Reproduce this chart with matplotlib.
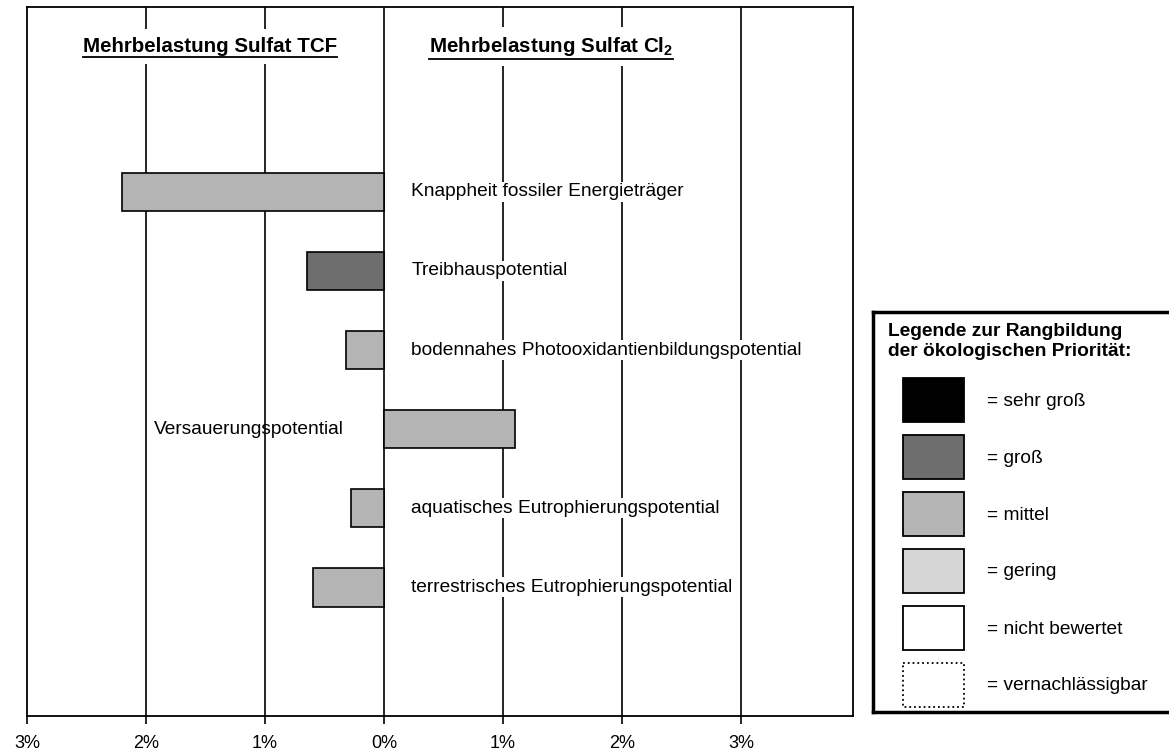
import matplotlib
matplotlib.use("Agg")
import matplotlib.pyplot as plt
from matplotlib.patches import Rectangle
from matplotlib.lines import Line2D

plt.rcParams['font.family'] = ['Liberation Sans', 'DejaVu Sans']
plt.rcParams['mathtext.fontset'] = 'custom'
plt.rcParams['mathtext.rm'] = 'Liberation Sans'
plt.rcParams['mathtext.bf'] = 'Liberation Sans:bold'

# data
kategorien = ["Knappheit fossiler Energieträger", "Treibhauspotential",
              "bodennahes Photooxidantienbildungspotential", "Versauerungspotential",
              "aquatisches Eutrophierungspotential", "terrestrisches Eutrophierungspotential"]
werte = [-2.2, -0.65, -0.32, 1.1, -0.28, -0.6]
prioritaet = ["mittel", "groß", "mittel", "mittel", "mittel", "mittel"]
ticks = [-3, -2, -1, 0, 1, 2, 3]
tick_labels = ["3%", "2%", "1%", "0%", "1%", "2%", "3%"]

legende_namen = ["sehr groß", "groß", "mittel", "gering", "nicht bewertet", "vernachlässigbar"]
farben = {"sehr groß": "#000000", "groß": "#6e6e6e", "mittel": "#b4b4b4",
          "gering": "#d6d6d6", "nicht bewertet": "#ffffff", "vernachlässigbar": "#ffffff"}

FS = 13.8
W, H = 1169, 753
fig = plt.figure(figsize=(W / 100, H / 100), dpi=100)

# main axes (pixel layout)
l, r, t, b = 27, 853, 7, 716
ax = fig.add_axes([l / W, 1 - b / H, (r - l) / W, (b - t) / H])
ax.set_xlim(-3, 3.94)
ax.set_ylim(5 + 1.63, -2.34)

for g in ticks[1:]:
    ax.axvline(g, color='black', lw=1.2, zorder=1)

y = list(range(len(kategorien)))
ax.barh(y, werte, height=0.49, color=[farben[p] for p in prioritaet],
        edgecolor='black', linewidth=1.2, zorder=3)

for yi, name, v in zip(y, kategorien, werte):
    if v > 0:
        ax.text(-0.34, yi, name, ha='right', va='center', fontsize=FS, zorder=4)
    else:
        ax.text(0.23, yi, name, ha='left', va='center', fontsize=FS, zorder=4,
                bbox=dict(facecolor='white', edgecolor='none', pad=1))

titel = [ax.text(-1.46, -1.84, "Mehrbelastung Sulfat TCF", ha='center', va='center',
                 fontsize=14.8, fontweight='bold', zorder=4,
                 bbox=dict(facecolor='white', edgecolor='none', pad=6)),
         ax.text(1.40, -1.84, r"Mehrbelastung Sulfat Cl$_\mathbf{2}$", ha='center', va='center',
                 fontsize=14.8, fontweight='bold', zorder=4,
                 bbox=dict(facecolor='white', edgecolor='none', pad=6))]

ax.set_xticks(ticks)
ax.set_xticklabels(tick_labels, fontsize=13)
ax.set_yticks([])
ax.tick_params(axis='x', direction='out', length=6, width=1.2, pad=8)
for s in ax.spines.values():
    s.set_linewidth(1.3)

# legend box
ll, lt, lb = 873, 312, 712
lax = fig.add_axes([ll / W, 1 - lb / H, (1180 - ll) / W, (lb - lt) / H])
lax.set_xlim(0, 1180 - ll)
lax.set_ylim(lb - lt, 0)
lax.set_xticks([])
lax.set_yticks([])
for s in lax.spines.values():
    s.set_linewidth(2.5)
lax.text(15, 19, "Legende zur Rangbildung", fontsize=FS, fontweight='bold', va='center')
lax.text(15, 39, "der ökologischen Priorität:", fontsize=FS, fontweight='bold', va='center')
for i, name in enumerate(legende_namen):
    top = 66 + i * 57
    ls = ':' if name == "vernachlässigbar" else '-'
    lax.add_patch(Rectangle((30, top), 61, 44, facecolor=farben[name], edgecolor='black',
                            linewidth=1.3, linestyle=ls))
    lax.text(114, top + 23, "= " + name, fontsize=FS, va='center')

# underline the titles
fig.canvas.draw()
rend = fig.canvas.get_renderer()
for txt in titel:
    bb = txt.get_window_extent(rend)
    yy = (bb.y0 - 1) / H
    fig.add_artist(Line2D([bb.x0 / W, bb.x1 / W], [yy, yy], color='black', lw=1.3))

fig.savefig("out.png", dpi=100)
